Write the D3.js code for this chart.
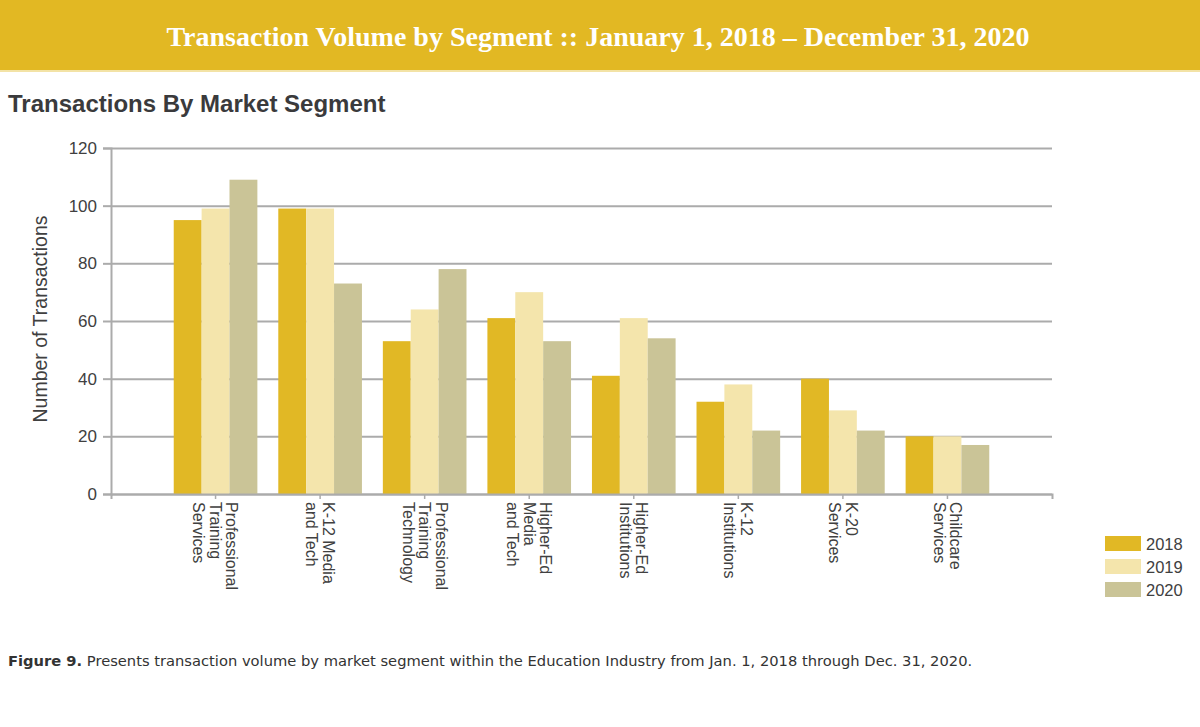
<!DOCTYPE html>
<html>
<head>
<meta charset="utf-8">
<script src="https://cdn.jsdelivr.net/npm/d3@7"></script>
<style>
  body { margin: 0; background: #fff; }
  text { font-family: "Liberation Sans", Arial, sans-serif; }
</style>
</head>
<body>
<svg id="chart" width="1200" height="727"></svg>
<script>
'use strict';

// data
const categories = [
  ['Professional', 'Training', 'Services'],
  ['K-12 Media', 'and Tech'],
  ['Professional', 'Training', 'Technology'],
  ['Higher-Ed', 'Media', 'and Tech'],
  ['Higher-Ed', 'Institutions'],
  ['K-12', 'Institutions'],
  ['K-20', 'Services'],
  ['Childcare', 'Services']
];
const years = ['2018', '2019', '2020'];
const values2018 = [95, 99, 53, 61, 41, 32, 40, 20];
const values2019 = [99, 99, 64, 70, 61, 38, 29, 20];
const values2020 = [109, 73, 78, 53, 54, 22, 22, 17];
const yTicks = [0, 20, 40, 60, 80, 100, 120];

const COLORS = ['#e1b825', '#f4e5ac', '#cac497'];
const TEXT_COLOR = '#404040';
const GRID_COLOR = '#ababab';

const svg = d3.select('#chart');
const margin = {left: 111, top: 148, right: 148, bottom: 233};
const plotW = 1200 - margin.left - margin.right;
const plotH = 727 - margin.top - margin.bottom;

// header band
svg.append('rect').attr('x', 0).attr('y', 0).attr('width', 1200).attr('height', 70).attr('fill', '#e2b823');
svg.append('rect').attr('x', 0).attr('y', 70).attr('width', 1200).attr('height', 2).attr('fill', '#f3e3a6');
svg.append('text')
  .attr('x', 598).attr('y', 46)
  .attr('text-anchor', 'middle')
  .style('font-family', '"Liberation Serif", "DejaVu Serif", serif')
  .style('font-weight', 'bold')
  .style('font-size', '28px')
  .attr('fill', '#fff')
  .text('Transaction Volume by Segment :: January 1, 2018 \u2013 December 31, 2020');

svg.append('text')
  .attr('x', 8).attr('y', 112)
  .style('font-weight', 'bold')
  .style('font-size', '24px')
  .attr('fill', '#3a3a3c')
  .text('Transactions By Market Segment');

const g = svg.append('g').attr('transform', `translate(${margin.left},${margin.top})`);

const x0 = d3.scaleBand()
  .domain(d3.range(categories.length))
  .range([0, plotW])
  .paddingInner(0.2)
  .paddingOuter(0.6);

const x1 = d3.scaleBand()
  .domain(years)
  .range([0, x0.bandwidth()]);

const y = d3.scaleLinear().domain([0, 120]).range([plotH, 0]);

// gridlines
const grid = g.append('g').call(d3.axisLeft(y).tickValues(yTicks).tickSize(-plotW).tickFormat(''));
grid.select('.domain').remove();
grid.selectAll('line').attr('stroke', GRID_COLOR).attr('stroke-width', 2);

// y axis
const yAxis = g.append('g').call(d3.axisLeft(y).tickValues(yTicks).tickSize(8).tickPadding(6));
yAxis.select('.domain').attr('stroke', GRID_COLOR).attr('stroke-width', 2);
yAxis.selectAll('line').attr('stroke', GRID_COLOR).attr('stroke-width', 2);
yAxis.selectAll('text')
  .style('font-family', '"Liberation Sans", Arial, sans-serif')
  .style('font-size', '17px')
  .attr('fill', TEXT_COLOR);

svg.append('text')
  .attr('transform', `translate(40,${margin.top + plotH / 2 - 2}) rotate(-90)`)
  .attr('text-anchor', 'middle')
  .attr('dy', '0.35em')
  .style('font-size', '19.5px')
  .attr('fill', TEXT_COLOR)
  .text('Number of Transactions');

// bars
const rows = categories.map((c, i) => ({
  index: i,
  values: [values2018[i], values2019[i], values2020[i]]
}));

const groups = g.selectAll('.group').data(rows).enter()
  .append('g').classed('group', true)
  .attr('transform', d => `translate(${x0(d.index)},0)`);

groups.selectAll('rect')
  .data(d => d.values.map((v, k) => ({year: years[k], value: v, k: k})))
  .enter().append('rect')
  .attr('x', d => x1(d.year))
  .attr('y', d => y(d.value))
  .attr('width', x1.bandwidth())
  .attr('height', d => plotH - y(d.value))
  .attr('fill', d => COLORS[d.k]);

// x axis line and ticks
const xAxis = g.append('g')
  .attr('transform', `translate(0,${plotH})`)
  .call(d3.axisBottom(x0).tickSize(5).tickFormat(''));
xAxis.select('.domain').attr('stroke', GRID_COLOR).attr('stroke-width', 2);
xAxis.selectAll('line').attr('stroke', GRID_COLOR).attr('stroke-width', 1.5);

// rotated multi-line category labels
const LINE_H = 16.5;
const labels = g.selectAll('.xlabel').data(categories).enter()
  .append('text').classed('xlabel', true)
  .attr('transform', (d, i) => `translate(${x0(i) + x0.bandwidth() / 2},${plotH + 8}) rotate(90)`)
  .style('font-size', '16px')
  .attr('fill', TEXT_COLOR);

labels.selectAll('tspan')
  .data(d => d.map((line, i) => ({line: line, i: i, n: d.length})))
  .enter().append('tspan')
  .attr('x', 0)
  .attr('y', d => (d.i - (d.n - 1) / 2) * LINE_H)
  .attr('dy', '0.35em')
  .text(d => d.line);

// legend
const legend = svg.append('g').attr('transform', 'translate(1105,536)');
const items = legend.selectAll('g').data(years).enter()
  .append('g')
  .attr('transform', (d, i) => `translate(0,${i * 23})`);
items.append('rect')
  .attr('width', 36).attr('height', 15)
  .attr('fill', (d, i) => COLORS[i]);
items.append('text')
  .attr('x', 41).attr('y', 14)
  .style('font-size', '16.5px')
  .attr('fill', TEXT_COLOR)
  .text(d => d);

// caption
const caption = svg.append('text')
  .attr('x', 8).attr('y', 666)
  .style('font-family', '"DejaVu Sans", Verdana, sans-serif')
  .style('font-size', '14.7px')
  .attr('fill', '#333');
caption.append('tspan').style('font-weight', 'bold').text('Figure 9.');
caption.append('tspan')
  .text(' Presents transaction volume by market segment within the Education Industry from Jan. 1, 2018 through Dec. 31, 2020.');
</script>
</body>
</html>
